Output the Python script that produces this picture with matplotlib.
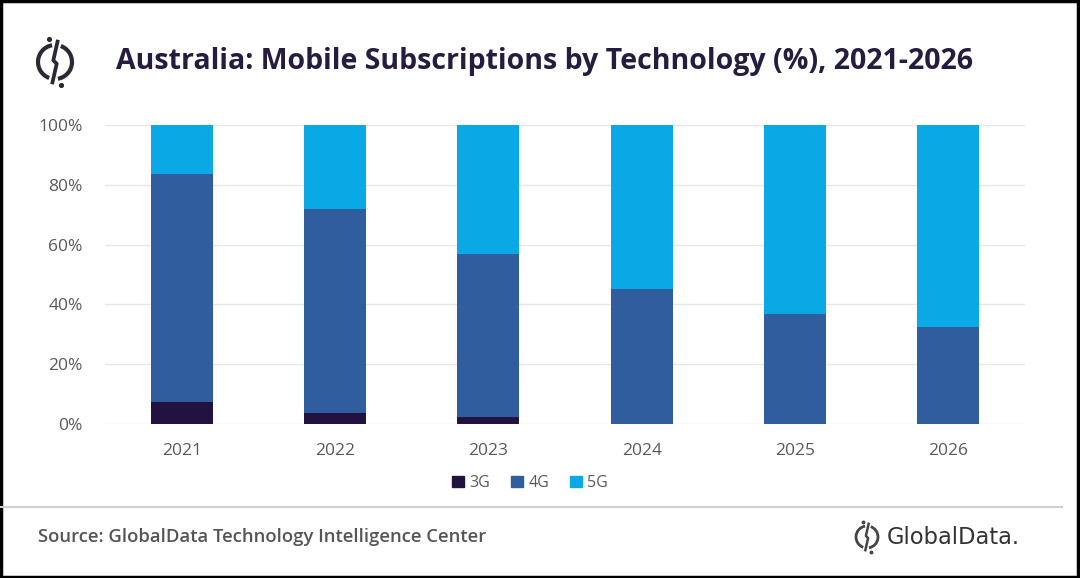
import matplotlib
matplotlib.use("Agg")
import matplotlib.pyplot as plt
from matplotlib.patches import Arc, Rectangle
from matplotlib.lines import Line2D
import numpy as np

years = ["2021", "2022", "2023", "2024", "2025", "2026"]
share_3g = [7.5, 3.7, 2.4, 0.0, 0.0, 0.0]
share_4g = [76.0, 68.3, 54.5, 45.2, 36.8, 32.4]
share_5g = [16.5, 28.0, 43.1, 54.8, 63.2, 67.6]
series_names = ["3G", "4G", "5G"]
series_colors = ["#22123f", "#2f5d9e", "#0aa9e6"]
yticks = [0, 20, 40, 60, 80, 100]
ytick_labels = ["0%", "20%", "40%", "60%", "80%", "100%"]

W, H = 1080, 578
fig = plt.figure(figsize=(W / 100, H / 100), dpi=100)
fig.patch.set_facecolor("white")

def fx(px):
    return px / W

def fy(py):
    return 1 - py / H

# axes: x from 105 to 1025, y from 125 (100%) to 424 (0%)
ax = fig.add_axes([fx(105), fy(424), fx(1025) - fx(105), fy(125) - fy(424)])
x = np.arange(len(years))
bw = 0.405
bottom = np.zeros(len(years))
for vals, name, col in zip([share_3g, share_4g, share_5g], series_names, series_colors):
    ax.bar(x, vals, bw, bottom=bottom, color=col, label=name, zorder=3)
    bottom = bottom + np.array(vals)

ax.set_xlim(-0.5, len(years) - 0.5)
ax.set_ylim(0, 100)
ax.set_yticks(yticks)
ax.set_yticklabels(ytick_labels)
ax.set_xticks(x)
ax.set_xticklabels(years)
ax.yaxis.grid(True, color="#e6e6e6", linewidth=1.0, zorder=0)
for s in ax.spines.values():
    s.set_visible(False)
ax.tick_params(axis="both", length=0, labelsize=12.5, labelcolor="#595959")
ax.tick_params(axis="y", pad=16)
ax.tick_params(axis="x", pad=14)
for lab in ax.get_xticklabels() + ax.get_yticklabels():
    lab.set_fontfamily("Open Sans")

handles = [Rectangle((0, 0), 1, 1, color=c) for c in series_colors]
fig.legend(handles, series_names, loc="center", bbox_to_anchor=(fx(530), fy(483)),
           ncol=3, frameon=False, handlelength=0.75, handleheight=0.75,
           handletextpad=0.35, columnspacing=1.3,
           prop={"family": "Open Sans", "size": 11.5}, labelcolor="#595959")

# title
fig.text(fx(116), fy(62), "Australia: Mobile Subscriptions by Technology (%), 2021-2026",
         fontsize=20.5, fontweight="bold", color="#261c40", family="Open Sans",
         va="center", ha="left")

# logos
def draw_logo(cx, cy, r, lw, color):
    axl = fig.add_axes([fx(cx - r * 1.6), fy(cy + r * 1.6), fx(3.2 * r), 3.2 * r / H])
    axl.set_xlim(-1.6, 1.6)
    axl.set_ylim(-1.6, 1.6)
    axl.axis("off")
    axl.add_patch(Arc((0, 0), 2, 2, theta1=100, theta2=250, lw=lw, color=color))
    axl.add_patch(Arc((0, 0), 2, 2, theta1=280, theta2=430, lw=lw, color=color))
    axl.plot([0.15, -0.1, 0.1, -0.15], [1.2, 0.1, -0.1, -1.2], color=color, lw=lw * 0.9)
    axl.plot([-0.35, 0.35], [1.35, -1.35], "o", color=color, ms=lw * 0.9)

draw_logo(55, 62, 17, 3.0, "#2a2a35")

# separator line
fig.add_artist(Line2D([fx(0), fx(1062)], [fy(507), fy(507)], color="#cfcfcf", lw=1.5))

# source
fig.text(fx(38), fy(537), "Source: GlobalData Technology Intelligence Center",
         fontsize=13.3, color="#555555", family="Open Sans", va="center", ha="left",
         fontweight="semibold")

# GlobalData brand
draw_logo(867, 537, 11, 2.0, "#444444")
fig.text(fx(887), fy(538), "GlobalData.", fontsize=16.3, color="#333333",
         family="DejaVu Sans", va="center", ha="left")

# frame
fig.add_artist(Rectangle((0.001, 0.002), 0.997, 0.996, fill=False, edgecolor="black",
                         lw=2.5, transform=fig.transFigure))

fig.savefig("out.png", dpi=100, facecolor="white")
